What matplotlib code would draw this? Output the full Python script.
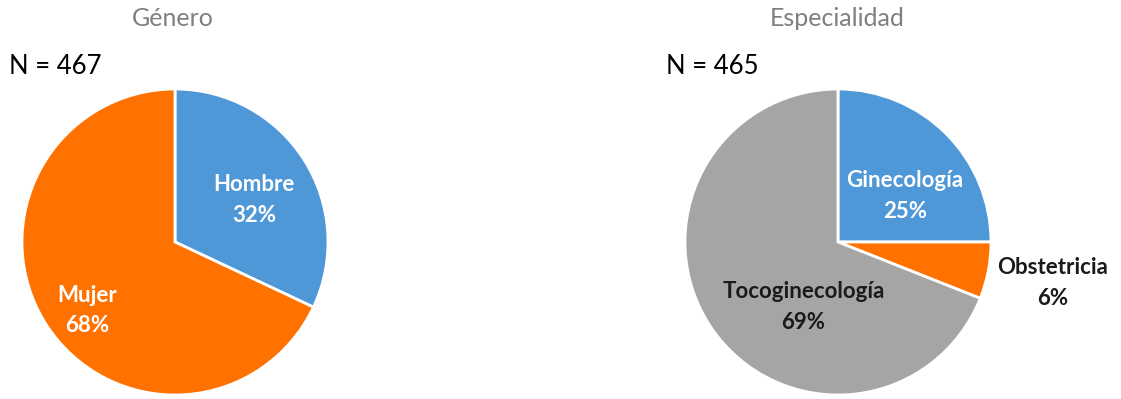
import matplotlib.pyplot as plt
import numpy as np

plt.rcParams['font.family'] = ['Lato', 'DejaVu Sans']

# Género
gen_labels = ['Hombre', 'Mujer']
gen_pct = [32, 68]
gen_colors = ['#4F98D8', '#FF7200']
gen_n = 467

# Especialidad
esp_labels = ['Ginecología', 'Obstetricia', 'Tocoginecología']
esp_pct = [25, 6, 69]
esp_colors = ['#4F98D8', '#FF7200', '#A5A5A5']
esp_n = 465

# label placement (distance from centre, angle in degrees) and text colour
gen_pos = [(0.585, 28), (0.73, -142)]
gen_txt = ['white', 'white']
esp_pos = [(0.53, 34.5), (1.43, -10.8), (0.48, -118)]
esp_txt = ['white', '#1a1a1a', '#1a1a1a']

fig = plt.figure(figsize=(11.21, 3.99), dpi=100)
W, H = 1121, 399


def draw_pie(cx, cy, r, labels, pct, colors, pos, txt, title, n, tx, nx):
    ax = fig.add_axes([(cx - r) / W, 1 - (cy + r) / H, 2 * r / W, 2 * r / H])
    ax.pie(pct, colors=colors, startangle=90, counterclock=False,
           wedgeprops=dict(edgecolor='white', linewidth=2))
    ax.set_xlim(-1, 1)
    ax.set_ylim(-1, 1)
    for lab, p, (d, a), c in zip(labels, pct, pos, txt):
        x = d * np.cos(np.radians(a))
        y = d * np.sin(np.radians(a))
        ax.text(x, y, f'{lab}\n{p}%', ha='center', va='center', color=c,
                fontsize=16, fontweight='bold', linespacing=1.55)
    fig.text(tx / W, 1 - 18 / H, title, ha='center', va='center',
             color='#7f7f7f', fontsize=18)
    fig.text(nx / W, 1 - 67 / H, f'N = {n}', ha='left', va='center',
             color='black', fontsize=18.5)


draw_pie(175, 242, 153, gen_labels, gen_pct, gen_colors, gen_pos, gen_txt,
         'Género', gen_n, 173, 9)
draw_pie(838, 242, 153, esp_labels, esp_pct, esp_colors, esp_pos, esp_txt,
         'Especialidad', esp_n, 837, 666)

fig.savefig('out.png', dpi=100)
